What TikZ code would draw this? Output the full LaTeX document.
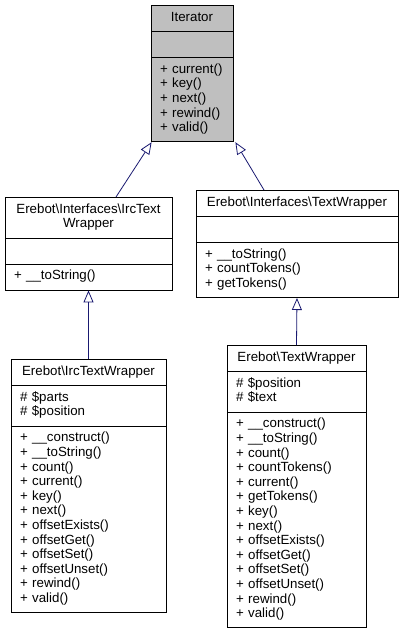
\documentclass[tikz,border=0pt]{standalone}
\usepackage{fontspec}
\setmainfont{Liberation Sans}
\usepackage{tikz}
\usetikzlibrary{shapes.multipart,arrows.meta,positioning}
\definecolor{inheritblue}{HTML}{191970}
\definecolor{basegray}{HTML}{BFBFBF}
\newcommand{\op}[1]{+ #1\strut}
\newcommand{\attr}[1]{\# #1\strut}
\newcommand{\ctitle}[1]{\makebox[\hsize][c]{#1}\strut}

\begin{document}
\begin{tikzpicture}[
		x=1pt, y=1pt,
		umlclass/.style={rectangle split, rectangle split parts=3, draw=black,
			line width=0.8pt, fill=white, anchor=north, align=left,
			inner xsep=9pt, inner ysep=5.3pt,
			font=\fontsize{13.3}{14.6}\selectfont},
		base/.style={umlclass, fill=basegray},
		inherit/.style={-{Triangle[open, length=12pt, width=10pt]},
			draw=inheritblue, line width=0.8pt}
	]
	\useasboundingbox (0,0) rectangle (403,-632);
	
	% Top: the base interface
	\node[base, text width=64pt] (iterator) at (192,-5) {\ctitle{Iterator}
		\nodepart{two}\strut
		\nodepart{three}\op{current()}\\ \op{key()}\\ \op{next()}\\
		\op{rewind()}\\ \op{valid()}};
	
	% Middle: the two interfaces
	\node[umlclass, text width=149pt] (irciface) at (88.5,-197)
	{\ctitle{Erebot\textbackslash Interfaces\textbackslash IrcText}\\ \ctitle{Wrapper}
		\nodepart{two}\strut
		\nodepart{three}\op{\_\_toString()}};
	\node[umlclass, text width=184pt] (textiface) at (297,-190)
	{\ctitle{Erebot\textbackslash Interfaces\textbackslash TextWrapper}
		\nodepart{two}\strut
		\nodepart{three}\op{\_\_toString()}\\ \op{countTokens()}\\ \op{getTokens()}};
	
	% Bottom: the implementations
	\node[umlclass, text width=137pt] (ircwrapper) at (88.5,-359)
	{\ctitle{Erebot\textbackslash IrcTextWrapper}
		\nodepart{two}\attr{\$parts}\\ \attr{\$position}
		\nodepart{three}\op{\_\_construct()}\\ \op{\_\_toString()}\\ \op{count()}\\
		\op{current()}\\ \op{key()}\\ \op{next()}\\ \op{offsetExists()}\\
		\op{offsetGet()}\\ \op{offsetSet()}\\ \op{offsetUnset()}\\
		\op{rewind()}\\ \op{valid()}};
	\node[umlclass, text width=121pt] (textwrapper) at (296.5,-345)
	{\ctitle{Erebot\textbackslash TextWrapper}
		\nodepart{two}\attr{\$position}\\ \attr{\$text}
		\nodepart{three}\op{\_\_construct()}\\ \op{\_\_toString()}\\ \op{count()}\\
		\op{countTokens()}\\ \op{current()}\\ \op{getTokens()}\\ \op{key()}\\
		\op{next()}\\ \op{offsetExists()}\\ \op{offsetGet()}\\ \op{offsetSet()}\\
		\op{offsetUnset()}\\ \op{rewind()}\\ \op{valid()}};
	
	% Inheritance arrows
	\draw[inherit] ([xshift=27.5pt]irciface.north) -- ([xshift=1pt]iterator.south west);
	\draw[inherit] ([xshift=-33pt]textiface.north) -- ([xshift=2pt]iterator.south east);
	\draw[inherit] (ircwrapper.north) -- (irciface.south);
	\draw[inherit] (textwrapper.north) -- (textiface.south);
	
\end{tikzpicture}
\end{document}
